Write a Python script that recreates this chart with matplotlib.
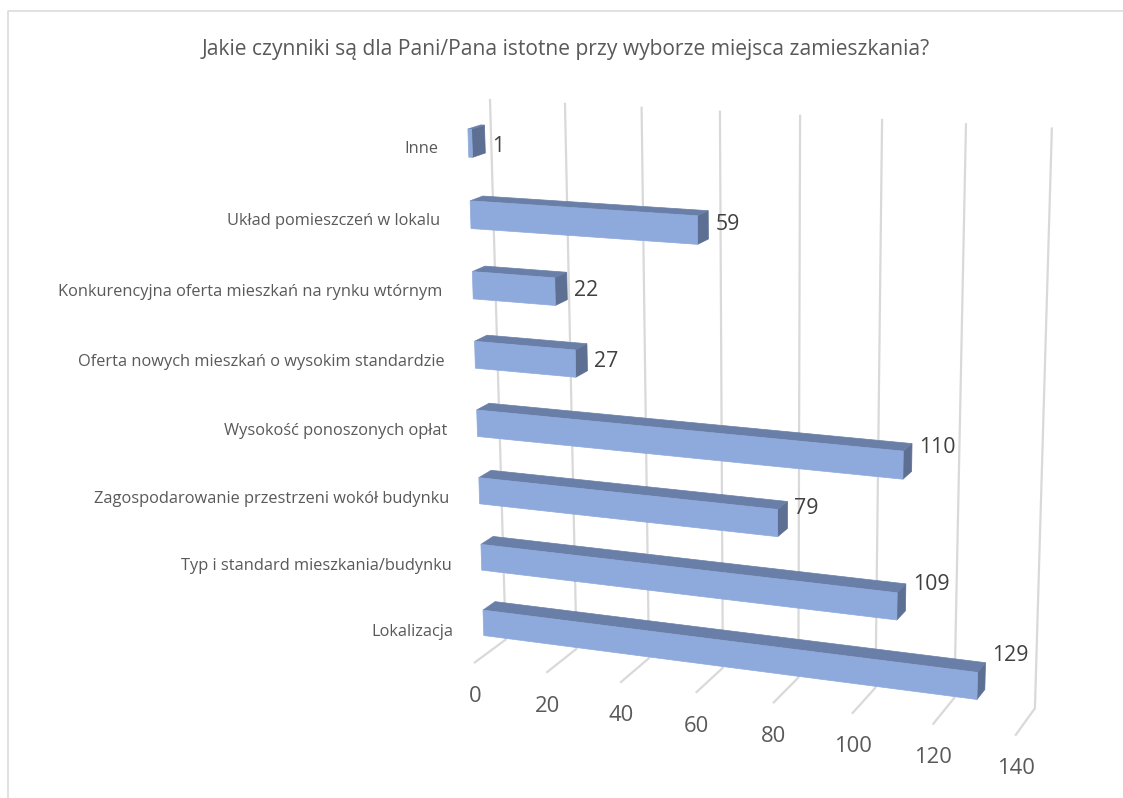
import numpy as np
import matplotlib
matplotlib.use('Agg')
import matplotlib.pyplot as plt

categories = ['Lokalizacja', 'Typ i standard mieszkania/budynku',
              'Zagospodarowanie przestrzeni wokół budynku', 'Wysokość ponoszonych opłat',
              'Oferta nowych mieszkań o wysokim standardzie',
              'Konkurencyjna oferta mieszkań na rynku wtórnym',
              'Układ pomieszczeń w lokalu', 'Inne']
values = [129, 109, 79, 110, 27, 22, 59, 1]
ticks = [0, 20, 40, 60, 80, 100, 120, 140]
title = 'Jakie czynniki są dla Pani/Pana istotne przy wyborze miejsca zamieszkania?'

# camera of the 3d view: (value, row height, depth) -> image pixel
P = np.array([[3.327771, -5.515157, 43.412515, 474.85326],
              [0.129208, -69.832994, -6.904499, 662.366495],
              [-0.000528, -0.007159, 0.024877, 1.0]])
# bar extent inside its row, height and depth
lo, up = .305, .695
f, b = .305, .695
# data labels sit higher than the bar end, the way the 3d chart placed them
label_dy = [-30, -22, -15, -18, -2, -1, -6, 3]


def project(v, z, d):
    p = P @ np.array([v, z, d, 1.])
    return p[0]/p[2], p[1]/p[2]


def face(pts):
    return zip(*[project(*p) for p in pts])


plt.rcParams['font.family'] = ['Open Sans', 'DejaVu Sans']
fig = plt.figure(figsize=(11.23, 7.98), dpi=100)
ax = fig.add_axes([0, 0, 1, 1])
ax.set_xlim(0, 1123)
ax.set_ylim(798, 0)
ax.axis('off')

# chart frame
ax.plot([8, 8, 1123], [798, 11, 11], color='#D9D9D9', lw=1.1)

for t in ticks:
    xs, ys = face([(t, 0, 0), (t, 0, 1), (t, 8, 1)])
    ax.plot(xs, ys, color='#D9D9D9', lw=1.6, solid_joinstyle='miter')
    x0, y0 = project(t, 0, 0)
    ax.text(x0, y0 + 34, str(t), ha='center', va='center', fontsize=15.8, color='#595959')

for c, val in enumerate(values):
    z0, z1 = c + lo, c + up
    ax.fill(*face([(val, z0, f), (val, z1, f), (val, z1, b), (val, z0, b)]), color='#5D6F92', lw=.5, zorder=3)
    ax.fill(*face([(0, z1, f), (val, z1, f), (val, z1, b), (0, z1, b)]), color='#6A7FA8', lw=.5, zorder=3)
    ax.fill(*face([(0, z0, f), (val, z0, f), (val, z1, f), (0, z1, f)]), color='#8EA9DB', lw=.5, zorder=4)
    x1, _ = project(val, c + .5, b)
    _, y1 = project(val, c + .5, f)
    ax.text(x1 + 7, y1 + label_dy[c], str(val), ha='left', va='center', fontsize=15.3, color='#404040', zorder=5)
    xl, yl = project(0, c + .5, 0)
    ax.text(xl - 20, yl + 2.5, categories[c], ha='right', va='center', fontsize=11.8, color='#595959')

ax.text(566, 50, title, ha='center', va='center', fontsize=15.1, color='#595959')
fig.savefig('out.png', dpi=100)
